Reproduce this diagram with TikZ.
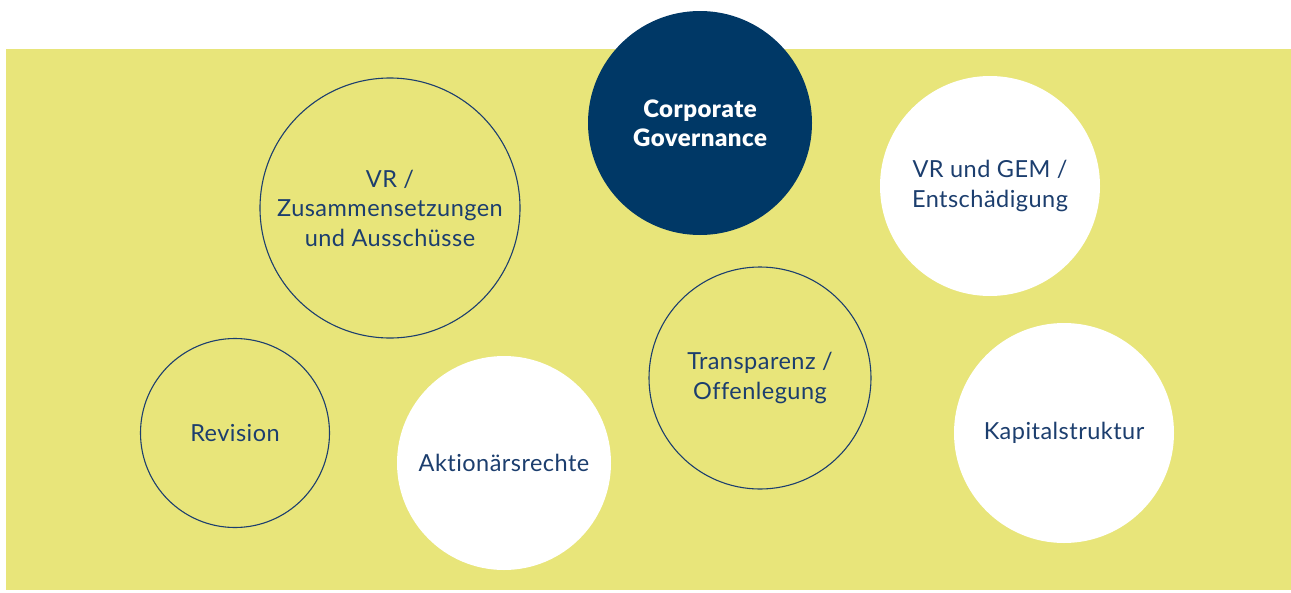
\documentclass[tikz,border=0pt]{standalone}
\usepackage{fontspec}
\setmainfont{Lato}[LetterSpace=2.0,Ligatures={NoCommon,NoRare,NoDiscretionary},BoldFont={Lato Black}]
\definecolor{bgyellow}{RGB}{232,229,122}
\definecolor{navy}{RGB}{0,56,102}
\definecolor{txtnavy}{RGB}{28,62,110}
\begin{document}
\begin{tikzpicture}[x=1pt,y=-1pt,
  lbl/.style={align=center,text=txtnavy,font=\fontsize{23.5}{29.5}\selectfont},
  ring/.style={draw=txtnavy,line width=1.1pt},
  disc/.style={fill=white}]
\useasboundingbox (0,0) rectangle (1291,592);
\fill[white] (0,0) rectangle (1291,592);
\fill[bgyellow] (6,49) rectangle (1291,590);
% circles
\fill[navy] (700,123) circle (112);
\draw[ring] (390,208) circle (130);
\fill[disc] (990,186) circle (110);
\draw[ring] (235,433) circle (94.5);
\fill[disc] (504,463) circle (107);
\draw[ring] (760,378) circle (111);
\fill[disc] (1064,433) circle (110);
% labels
\node[align=center,text=white,font=\fontsize{24}{29}\selectfont\bfseries] (cg) at (700,123) {Corporate\\Governance};
\node[lbl] (vr) at (390,208) {VR /\\Zusammensetzungen\\und Ausschüsse};
\node[lbl] (gem) at (990,186) {VR und GEM /\\Entschädigung};
\node[lbl] (rev) at (235,433) {Revision};
\node[lbl] (akt) at (504,463) {Aktionärsrechte};
\node[lbl] (tra) at (760,378) {Transparenz /\\Offenlegung};
\node[lbl] (kap) at (1064,433) {Kapitalstruktur};
\end{tikzpicture}
\end{document}
